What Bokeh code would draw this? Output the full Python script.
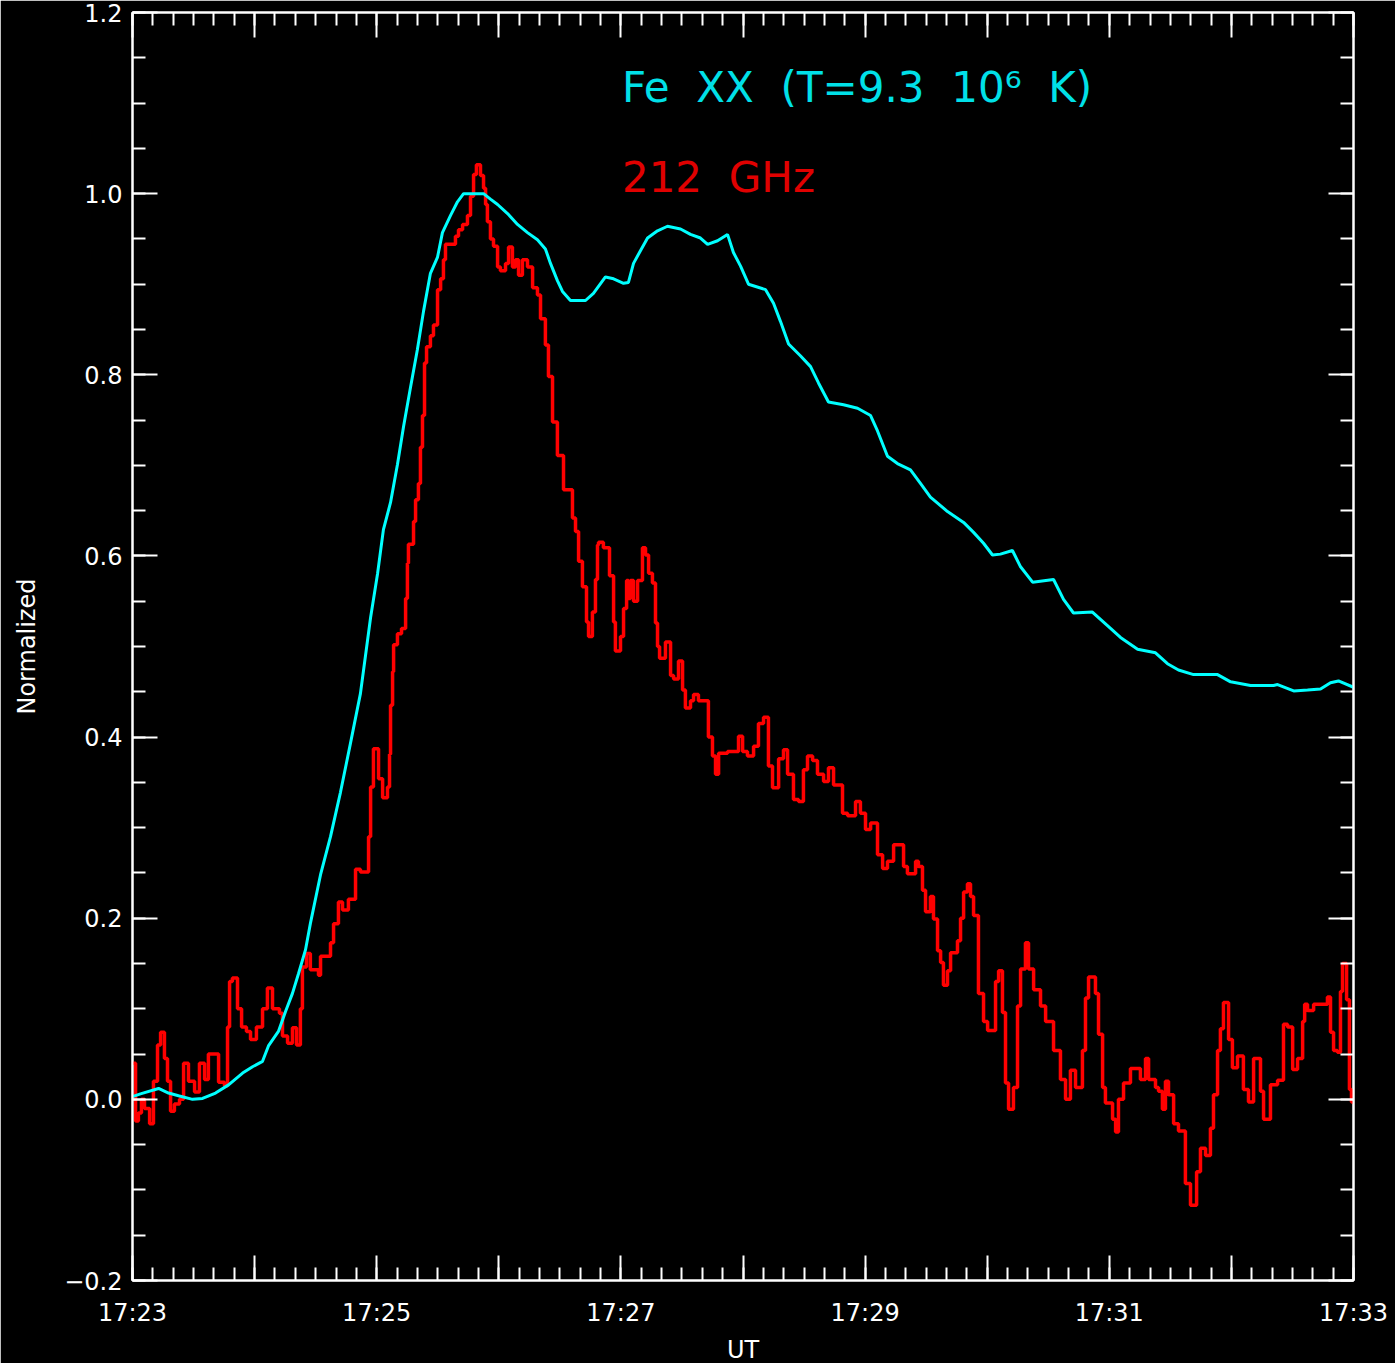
from bokeh.plotting import figure
from bokeh.models import LinearAxis, FixedTicker, CustomJSTickFormatter, Range1d, Label
from bokeh.embed import file_html
from bokeh.resources import INLINE

# ---------------- data (time in seconds after 17:23:00 UT) ----------------
# 212 GHz (red, stepped)
ghz_t = [0.0, 1.5, 2.9, 4.4, 5.9, 8.4, 10.3, 12.3, 13.8, 15.7, 17.2, 18.7, 20.6, 23.1, 25.1,
         27.5, 30.5, 32.9, 35.4, 37.3, 42.3, 45.2, 46.7, 47.7, 49.1, 51.6, 53.6, 56.0, 58.0,
         60.9, 63.9, 66.3, 68.8, 72.2, 73.7, 76.2, 78.6, 80.6, 82.5, 83.5, 85.5, 87.4, 91.4,
         92.4, 97.3, 98.8, 101.2, 103.2, 106.1, 109.6, 112.0, 116.0, 117.0, 118.4, 120.9,
         122.9, 125.3, 126.3, 126.8, 127.8, 128.3, 130.2, 132.2, 134.2, 135.1, 135.6, 138.1,
         139.1, 140.5, 141.5, 142.5, 143.5, 144.5, 146.4, 147.9, 149.9, 151.4, 152.8, 153.8,
         158.7, 160.2, 162.2, 164.6, 166.1, 167.6, 169.0, 171.0, 172.5, 173.5, 174.4, 175.9,
         177.4, 179.4, 180.8, 183.3, 184.8, 186.7, 188.2, 189.7, 191.6, 194.1, 196.6, 199.0,
         200.5, 202.9, 204.4, 206.4, 208.8, 211.8, 216.2, 217.7, 219.2, 221.1, 223.1, 224.1,
         226.0, 227.5, 228.5, 229.0, 231.4, 234.4, 236.4, 237.3, 239.8, 241.3, 242.8, 243.7,
         244.7, 246.2, 248.2, 250.6, 252.1, 253.6, 255.5, 257.0, 258.0, 259.0, 261.9, 264.4,
         265.9, 268.3, 270.3, 271.7, 274.2, 275.7, 278.1, 283.0, 285.0, 286.5, 288.0, 292.4,
         297.8, 299.8, 302.2, 305.2, 307.6, 310.1, 312.5, 314.5, 317.5, 319.9, 321.9, 324.8,
         327.3, 329.7, 331.7, 334.2, 336.6, 339.6, 342.0, 344.5, 348.9, 351.4, 355.3, 357.7,
         360.2, 362.7, 366.1, 368.6, 371.0, 374.0, 378.9, 380.8, 384.8, 386.2, 388.2, 389.7,
         392.1, 393.6, 395.6, 397.1, 398.5, 400.5, 402.0, 405.4, 406.9, 408.4, 410.3, 411.8,
         413.3, 415.7, 418.2, 420.2, 424.1, 425.6, 427.5, 429.0, 430.5, 432.9, 434.9, 436.4,
         438.8, 440.3, 442.8, 446.2, 448.7, 452.6, 456.0, 458.5, 460.9, 463.4, 466.8, 468.3,
         469.8, 473.2, 474.7, 476.7, 478.1, 481.6, 483.1, 484.5, 487.0, 490.4, 495.3, 497.8,
         499.3, 502.7, 504.2, 506.1, 507.6, 509.1, 511.6, 514.0, 517.4, 519.9, 522.9, 524.8,
         527.3, 529.7, 531.2, 533.2, 534.6, 536.1, 538.6, 540.5, 543.0, 545.9, 548.4, 550.9,
         554.3, 555.8, 559.2, 562.7, 565.6, 567.6, 570.1, 572.5, 575.0, 576.0, 577.4, 580.4,
         587.2, 588.7, 590.2, 592.1, 593.6, 594.6, 596.6, 598.0, 599.0, 600.0]
ghz_y = [0.04, -0.024, -0.015, 0.0, -0.01, -0.027, 0.02, 0.06, 0.074, 0.045, 0.02, -0.013,
         -0.005, 0.0, 0.04, 0.02, 0.008, 0.04, 0.022, 0.05, 0.019, 0.015, 0.08, 0.13, 0.134,
         0.10, 0.08, 0.075, 0.066, 0.08, 0.10, 0.123, 0.10, 0.095, 0.07, 0.062, 0.079, 0.06,
         0.10, 0.146, 0.161, 0.143, 0.137, 0.158, 0.173, 0.194, 0.218, 0.209, 0.221, 0.254,
         0.251, 0.29, 0.345, 0.387, 0.354, 0.333, 0.345, 0.381, 0.435, 0.472, 0.502, 0.514,
         0.52, 0.553, 0.592, 0.613, 0.638, 0.662, 0.68, 0.72, 0.755, 0.813, 0.831, 0.843,
         0.855, 0.894, 0.906, 0.927, 0.944, 0.953, 0.96, 0.966, 0.976, 0.997, 1.021, 1.032,
         1.02, 1.006, 0.988, 0.969, 0.95, 0.942, 0.919, 0.915, 0.923, 0.941, 0.919, 0.927,
         0.910, 0.927, 0.919, 0.896, 0.888, 0.862, 0.833, 0.798, 0.748, 0.711, 0.673, 0.642,
         0.627, 0.594, 0.566, 0.527, 0.511, 0.538, 0.574, 0.612, 0.615, 0.609, 0.578, 0.527,
         0.495, 0.511, 0.542, 0.573, 0.553, 0.573, 0.55, 0.573, 0.609, 0.601, 0.581, 0.57,
         0.526, 0.50, 0.487, 0.505, 0.468, 0.464, 0.484, 0.452, 0.432, 0.44, 0.447, 0.44,
         0.40, 0.379, 0.359, 0.382, 0.384, 0.401, 0.384, 0.379, 0.39, 0.415, 0.422, 0.368,
         0.344, 0.376, 0.386, 0.359, 0.331, 0.329, 0.364, 0.379, 0.374, 0.359, 0.351, 0.366,
         0.347, 0.316, 0.313, 0.329, 0.316, 0.298, 0.305, 0.27, 0.255, 0.263, 0.281, 0.257,
         0.249, 0.263, 0.257, 0.231, 0.207, 0.224, 0.199, 0.164, 0.151, 0.126, 0.142, 0.162,
         0.175, 0.2, 0.229, 0.238, 0.224, 0.203, 0.117, 0.086, 0.076, 0.13, 0.142, 0.096,
         0.018, -0.011, 0.013, 0.103, 0.144, 0.173, 0.144, 0.121, 0.103, 0.086, 0.054, 0.022,
         0.0, 0.032, 0.013, 0.054, 0.112, 0.135, 0.117, 0.072, 0.013, -0.004, -0.022, -0.036,
         0.0, 0.018, 0.034, 0.022, 0.045, 0.022, 0.013, 0.009, -0.011, 0.02, 0.005, -0.027,
         -0.035, -0.093, -0.117, -0.08, -0.054, -0.062, -0.032, 0.005, 0.054, 0.078, 0.107,
         0.066, 0.035, 0.048, 0.011, -0.003, 0.045, 0.009, -0.022, 0.016, 0.021, 0.083, 0.08,
         0.033, 0.045, 0.086, 0.105, 0.098, 0.105, 0.113, 0.074, 0.054, 0.052, 0.119, 0.15,
         0.11, 0.011, -0.003, -0.003]

# Fe XX (cyan)
fe_t = [0.0, 3.9, 12.8, 17.7, 22.6, 29.5, 34.4, 40.8, 47.2, 54.1, 59.0, 63.9, 66.8, 71.7,
        75.2, 78.6, 81.6, 85.0, 87.4, 92.4, 97.3, 102.2, 107.1, 112.0, 117.0, 120.4, 123.3,
        126.8, 130.2, 133.2, 136.6, 140.0, 143.0, 146.4, 149.9, 152.3, 156.3, 159.7, 162.7,
        172.5, 175.9, 179.4, 184.3, 189.2, 194.1, 199.0, 202.9, 205.4, 208.8, 211.3, 215.2,
        222.6, 226.5, 232.4, 236.4, 241.3, 243.7, 246.2, 249.6, 253.1, 258.0, 262.9, 269.3,
        274.2, 279.1, 282.6, 287.5, 292.4, 295.3, 298.8, 302.7, 311.1, 315.0, 318.4, 322.4,
        328.2, 333.2, 337.1, 342.0, 349.4, 356.3, 362.7, 366.1, 371.0, 375.9, 382.3, 387.2,
        392.1, 400.5, 408.4, 413.3, 418.2, 422.6, 426.5, 432.4, 436.4, 442.3, 452.6, 457.5,
        462.4, 471.7, 479.1, 485.5, 493.9, 502.7, 508.6, 514.0, 521.4, 533.2, 539.6, 549.4,
        560.7, 562.7, 570.6, 577.4, 583.8, 588.7, 592.6, 600.0]
fe_y = [0.003, 0.006, 0.012, 0.007, 0.004, 0.0, 0.001, 0.007, 0.016, 0.029, 0.036, 0.042,
        0.059, 0.075, 0.097, 0.117, 0.139, 0.165, 0.194, 0.248, 0.29, 0.339, 0.393, 0.448,
        0.532, 0.58, 0.629, 0.659, 0.701, 0.743, 0.786, 0.828, 0.87, 0.912, 0.93, 0.957,
        0.976, 0.991, 1.0, 1.0, 0.994, 0.988, 0.978, 0.966, 0.957, 0.949, 0.939, 0.923,
        0.904, 0.892, 0.882, 0.882, 0.89, 0.908, 0.906, 0.901, 0.902, 0.923, 0.937, 0.951,
        0.959, 0.964, 0.961, 0.955, 0.951, 0.944, 0.948, 0.955, 0.935, 0.92, 0.90, 0.894,
        0.879, 0.859, 0.834, 0.821, 0.809, 0.791, 0.77, 0.767, 0.763, 0.755, 0.738, 0.71,
        0.702, 0.695, 0.68, 0.665, 0.649, 0.637, 0.626, 0.614, 0.601, 0.602, 0.606, 0.588,
        0.571, 0.574, 0.552, 0.537, 0.538, 0.523, 0.51, 0.497, 0.493, 0.481, 0.474, 0.469,
        0.469, 0.461, 0.457, 0.457, 0.458, 0.451, 0.452, 0.453, 0.46, 0.462, 0.455]

# ticks and tick labels
x_major = [0, 60, 120, 180, 240, 300, 360, 420, 480, 540, 600]
x_minor = list(range(0, 601, 10))
x_tick_labels = ["17:23", "", "17:25", "", "17:27", "", "17:29", "", "17:31", "", "17:33"]
y_major = [-0.2, 0.0, 0.2, 0.4, 0.6, 0.8, 1.0, 1.2]
y_minor = [round(-0.2 + 0.05 * i, 2) for i in range(29)]
y_tick_labels = ["\u22120.2", "0.0", "0.2", "0.4", "0.6", "0.8", "1.0", "1.2"]

# annotation texts (wide word gaps: space + no-break space, so SVG keeps them)
GAP = " \u00a0"
fe_label = GAP.join(["Fe", "XX", "(T=9.3", "10\u2076", "K)"])
ghz_label = GAP.join(["212", "GHz"])

FONT = "DejaVu Sans"
FG = "white"

p = figure(frame_width=1221, frame_height=1268,
           x_range=Range1d(0, 600), y_range=Range1d(-0.2, 1.2),
           x_axis_type=None, y_axis_type=None,
           output_backend="svg", toolbar_location=None,
           background_fill_color="black", border_fill_color="black",
           min_border_left=132, min_border_right=42, min_border_top=12, min_border_bottom=83)
p.outline_line_color = FG
p.outline_line_width = 2


def style(ax, labelled):
    ax.axis_line_color = FG
    ax.axis_line_width = 2
    ax.major_tick_line_color = FG
    ax.major_tick_line_width = 2
    ax.major_tick_in = 25
    ax.major_tick_out = 0
    ax.minor_tick_line_color = FG
    ax.minor_tick_line_width = 2
    ax.minor_tick_in = 13
    ax.minor_tick_out = 0
    if labelled:
        ax.major_label_text_color = FG
        ax.major_label_text_font = FONT
        ax.major_label_text_font_size = "24px"
        ax.axis_label_text_color = FG
        ax.axis_label_text_font = FONT
        ax.axis_label_text_font_size = "24px"
        ax.axis_label_text_font_style = "normal"
    else:
        ax.formatter = CustomJSTickFormatter(code="return '';")
        ax.major_label_text_font_size = "0px"
        ax.major_label_standoff = 0
        ax.axis_label = None


xfmt = CustomJSTickFormatter(args=dict(labels=x_tick_labels),
                             code="const i = Math.round(tick / 60); return labels[i] || '';")
yfmt = CustomJSTickFormatter(args=dict(labels=y_tick_labels),
                             code="const i = Math.round((tick + 0.2) / 0.2); return labels[i] || '';")

xb = LinearAxis(ticker=FixedTicker(ticks=x_major, minor_ticks=x_minor), formatter=xfmt, axis_label="UT")
style(xb, True)
xb.major_label_standoff = 18
xb.axis_label_standoff = 6
p.add_layout(xb, "below")

xt = LinearAxis(ticker=FixedTicker(ticks=x_major, minor_ticks=x_minor))
style(xt, False)
p.add_layout(xt, "above")

yl = LinearAxis(ticker=FixedTicker(ticks=y_major, minor_ticks=y_minor), formatter=yfmt, axis_label="Normalized")
style(yl, True)
yl.major_label_standoff = 10
yl.axis_label_standoff = 20
p.add_layout(yl, "left")

yr = LinearAxis(ticker=FixedTicker(ticks=y_major, minor_ticks=y_minor))
style(yr, False)
p.add_layout(yr, "right")

p.step(ghz_t, ghz_y, mode="after", line_color="#ff0000", line_width=3.5)
p.line(fe_t, fe_y, line_color="#00ffff", line_width=3)

p.add_layout(Label(x=240.5, y=1.117, text=fe_label, text_color="#00e0e8",
                   text_font=FONT, text_font_size="42px", text_baseline="alphabetic"))
p.add_layout(Label(x=240.5, y=1.018, text=ghz_label, text_color="#e00000",
                   text_font=FONT, text_font_size="42px", text_baseline="alphabetic"))

open("out.html", "w").write(file_html(p, INLINE))
